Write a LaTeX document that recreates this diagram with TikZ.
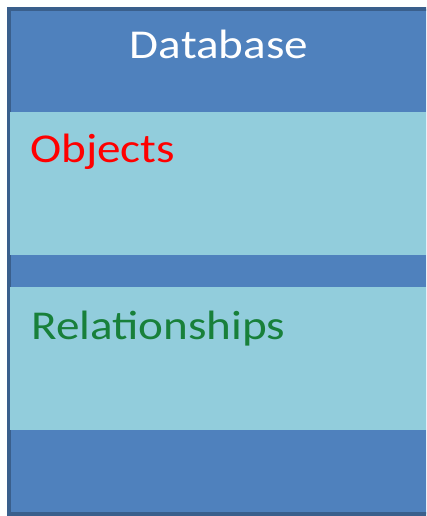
\documentclass[tikz,border=0pt]{standalone}
\usepackage{fontspec}
\setmainfont{Carlito}
\definecolor{dbfill}{HTML}{4F81BD}
\definecolor{dbline}{HTML}{3A5F8C}
\definecolor{partfill}{HTML}{92CDDC}
\definecolor{relgreen}{RGB}{24,128,58}
\tikzset{
  dbbox/.style={draw=dbline, line width=4pt, fill=dbfill},
  part/.style={fill=partfill, draw=none},
  label/.style={inner sep=0pt, xscale=1.15, transform shape,
    font=\fontsize{41}{48}\selectfont},
}
\begin{document}
\begin{tikzpicture}[x=1pt,y=1pt]
\useasboundingbox (0,0) rectangle (426,516);
\clip (0,0) rectangle (426,516);
% outer database container
\draw[dbbox] (9,2) rectangle (440,507);
% two compartments
\fill[part] (10,261) rectangle (426,404);
\fill[part] (10,86) rectangle (426,229);
% texts
\node[label, text=white, anchor=base] (title) at (219,457) {Database};
\node[label, text=red, anchor=base west] (objects) at (30,353) {Objects};
\node[label, text=relgreen, anchor=base west] (rels) at (31,176) {Relationships};
\end{tikzpicture}
\end{document}
